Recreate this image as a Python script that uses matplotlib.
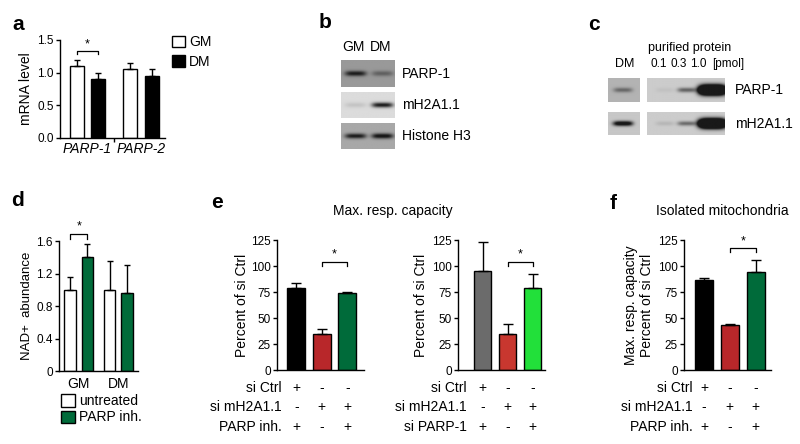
import numpy as np
import matplotlib
matplotlib.use("Agg")
import matplotlib.pyplot as plt

plt.rcParams['font.family'] = ['Liberation Sans', 'DejaVu Sans']
plt.rcParams['axes.linewidth'] = 1.0
plt.rcParams['xtick.major.width'] = 1.0
plt.rcParams['ytick.major.width'] = 1.0
plt.rcParams['xtick.major.size'] = 3
plt.rcParams['ytick.major.size'] = 3

# ==========================================
# Data
# ==========================================
# a - mRNA level
mrna_genes = ['PARP-1', 'PARP-2']
mrna_gm = [1.10, 1.05]
mrna_gm_err = [0.09, 0.10]
mrna_dm = [0.90, 0.95]
mrna_dm_err = [0.10, 0.10]

# b - western blot (band intensity per lane)
blot_b_lanes = ['GM', 'DM']
blot_b_rows = ['PARP-1', 'mH2A1.1', 'Histone H3']
blot_b_bands = [[1.0, 0.45], [0.12, 1.0], [1.0, 1.1]]

# c - western blot, DM lysate vs purified protein
blot_c_rows = ['PARP-1', 'mH2A1.1']
blot_c_pmol = ['0.1', '0.3', '1.0']
blot_c_dm = [0.5, 1.3]
blot_c_bands = [[0.06, 0.6, 4.0], [0.12, 0.55, 4.0]]

# d - NAD+ abundance
nad_groups = ['GM', 'DM']
nad_untreated = [1.00, 1.00]
nad_untreated_err = [0.16, 0.35]
nad_parp = [1.40, 0.96]
nad_parp_err = [0.16, 0.34]

# e - max. resp. capacity
e1_vals = [79, 35, 74]
e1_err = [5, 4, 1]
e1_rows = ['si Ctrl', 'si mH2A1.1', 'PARP inh.']
e1_signs = [['+', '-', '-'], ['-', '+', '+'], ['+', '-', '+']]

e2_vals = [95, 35, 79]
e2_err = [28, 9, 13]
e2_rows = ['si Ctrl', 'si mH2A1.1', 'si PARP-1']
e2_signs = [['+', '-', '-'], ['-', '+', '+'], ['+', '-', '+']]

# f - isolated mitochondria
f_vals = [87, 43, 94]
f_err = [1, 1, 12]
f_rows = ['si Ctrl', 'si mH2A1.1', 'PARP inh.']
f_signs = [['+', '-', '-'], ['-', '+', '+'], ['+', '-', '+']]

GREEN = '#006b3a'
RED = '#b8272a'
RED2 = '#c8372f'
LGREEN = '#22e03a'
GRAY = '#6b6b6b'

FS = 10
TICK_FS = 8.5

W, H = 800, 444
fig = plt.figure(figsize=(W / 100, H / 100), dpi=100)


def px_axes(x0, y0, x1, y1):
    return fig.add_axes([x0 / W, 1 - y1 / H, (x1 - x0) / W, (y1 - y0) / H])


def ftext(x, y, s, **kw):
    fig.text(x / W, 1 - y / H, s, **kw)


def clean(ax):
    ax.spines['top'].set_visible(False)
    ax.spines['right'].set_visible(False)
    ax.tick_params(labelsize=TICK_FS, pad=1.5)


def bracket(ax, x1, x2, y, h):
    ax.plot([x1, x1, x2, x2], [y - h, y, y, y - h], color='black', lw=0.9, clip_on=False)
    ax.text((x1 + x2) / 2, y + h * 0.3, '*', ha='center', va='bottom', fontsize=9)


def draw_blot(ax, bands, centers, bg, half_w):
    ny, nx = 60, 160
    xx, yy = np.meshgrid(np.linspace(0, 1, nx), np.linspace(0, 1, ny))
    dark = np.zeros_like(xx)
    for c, a in zip(centers, bands):
        # strong (saturated) bands bleed wider and taller
        hw = half_w * (0.85 + 0.15 * max(a, 1))
        sy = 0.07 + 0.03 * max(a, 1)
        dark += a * np.exp(-((xx - c) / hw) ** 4) * np.exp(-((yy - 0.5) / sy) ** 2)
    dark = np.clip(dark, 0, 1)
    img = bg - (bg - 0.1) * dark
    ax.imshow(img, cmap='gray', vmin=0, vmax=1, extent=[0, 1, 0, 1],
              aspect='auto', interpolation='bilinear')
    ax.set_xticks([])
    ax.set_yticks([])
    for s in ax.spines.values():
        s.set_visible(False)


# ==========================================
# a
# ==========================================
ax = px_axes(60, 40, 165, 138)
clean(ax)
g = np.arange(len(mrna_genes))
ax.bar(g - 0.2, mrna_gm, 0.26, color='white', edgecolor='black', lw=1, label='GM',
       yerr=[[0] * 2, mrna_gm_err], capsize=2.5, error_kw=dict(lw=1, capthick=1))
ax.bar(g + 0.2, mrna_dm, 0.26, color='black', edgecolor='black', lw=1, label='DM',
       yerr=[[0] * 2, mrna_dm_err], capsize=2.5, error_kw=dict(lw=1, capthick=1))
ax.set_xlim(-0.51, 1.45)
ax.set_ylim(0, 1.5)
ax.set_yticks([0, 0.5, 1.0, 1.5])
ax.set_yticklabels(['0.0', '0.5', '1.0', '1.5'])
ax.set_xticks(g)
ax.set_xticklabels(mrna_genes, style='italic', fontsize=FS)
ax.tick_params(axis='x', length=0, pad=3)
ax.set_xticks([0.5], minor=True)
ax.tick_params(axis='x', which='minor', length=3, width=1)
ax.set_ylabel('mRNA level', fontsize=FS)
ax.yaxis.set_label_coords(-0.26, 0.5)
bracket(ax, -0.2, 0.2, 1.33, 0.05)
ax.legend(loc='upper left', bbox_to_anchor=(1.07, 1.05), frameon=False, fontsize=FS,
          handlelength=0.9, handleheight=0.9, handletextpad=0.3, labelspacing=0.4,
          borderpad=0, borderaxespad=0)
ftext(18, 25, 'a', fontsize=15, fontweight='bold', ha='center', va='center')

# ==========================================
# b
# ==========================================
b_rows_px = [(60, 87), (92, 118), (123, 149)]
b_bg = [0.60, 0.86, 0.66]
for i, (y0, y1) in enumerate(b_rows_px):
    bx = px_axes(341, y0, 394, y1)
    draw_blot(bx, blot_b_bands[i], [0.27, 0.77], b_bg[i], 0.2)
    ftext(402, (y0 + y1) / 2, blot_b_rows[i], fontsize=FS, va='center')
for lx, lab in zip([353, 381], blot_b_lanes):
    ftext(lx, 47, lab, fontsize=FS, ha='center', va='center')
ftext(325, 22, 'b', fontsize=15, fontweight='bold', ha='center', va='center')

# ==========================================
# c
# ==========================================
c_rows_px = [(78, 102), (112, 135)]
c_bg_dm = [0.70, 0.78]
c_bg = [0.80, 0.80]
for i, (y0, y1) in enumerate(c_rows_px):
    cx = px_axes(608, y0, 640, y1)
    draw_blot(cx, [blot_c_dm[i]], [0.47], c_bg_dm[i], 0.3)
    cx2 = px_axes(647, y0, 725, y1)
    draw_blot(cx2, blot_c_bands[i], [0.23, 0.51, 0.84], c_bg[i], 0.12)
    ftext(735, (y0 + y1) / 2, blot_c_rows[i], fontsize=FS, va='center')
ftext(625, 64, 'DM', fontsize=9, ha='center', va='center')
for lx, lab in zip([659, 679, 698], blot_c_pmol):
    ftext(lx, 64, lab, fontsize=8.5, ha='center', va='center')
ftext(728, 64, '[pmol]', fontsize=8.5, ha='center', va='center')
ftext(690, 48, 'purified protein', fontsize=9, ha='center', va='center')
ftext(594, 25, 'c', fontsize=15, fontweight='bold', ha='center', va='center')

# ==========================================
# d
# ==========================================
ax = px_axes(59, 241, 138, 371)
clean(ax)
g = np.arange(len(nad_groups))
ax.bar(g - 0.22, nad_untreated, 0.3, color='white', edgecolor='black', lw=1, label='untreated',
       yerr=[[0] * 2, nad_untreated_err], capsize=2.5, error_kw=dict(lw=1, capthick=1))
ax.bar(g + 0.22, nad_parp, 0.3, color=GREEN, edgecolor='black', lw=1, label='PARP inh.',
       yerr=[[0] * 2, nad_parp_err], capsize=2.5, error_kw=dict(lw=1, capthick=1))
ax.set_xlim(-0.5, 1.5)
ax.set_ylim(0, 1.6)
ax.set_yticks([0, 0.4, 0.8, 1.2, 1.6])
ax.set_yticklabels(['0', '0.4', '0.8', '1.2', '1.6'])
ax.set_xticks(g)
ax.set_xticklabels(nad_groups, fontsize=FS)
ax.tick_params(axis='x', length=0, pad=4)
ax.set_ylabel('NAD+  abundance', fontsize=9.5)
ax.yaxis.set_label_coords(-0.33, 0.5)
bracket(ax, -0.22, 0.22, 1.69, 0.06)
ax.legend(loc='upper left', bbox_to_anchor=(0.03, -0.18), frameon=False, fontsize=FS,
          handlelength=1.0, handleheight=1.0, handletextpad=0.3, labelspacing=0.15,
          borderpad=0, borderaxespad=0)
ftext(18, 200, 'd', fontsize=15, fontweight='bold', ha='center', va='center')


# ==========================================
# e, f
# ==========================================
def resp_panel(x0, x1, vals, errs, colors, rows, signs, xlim, lab_x, br_y):
    ax = px_axes(x0, 240, x1, 370)
    clean(ax)
    x = np.arange(len(vals))
    ax.bar(x, vals, 0.7, color=colors, edgecolor='black', lw=1,
           yerr=[[0] * len(vals), errs], capsize=3.5, error_kw=dict(lw=1, capthick=1))
    ax.set_xlim(*xlim)
    ax.set_ylim(0, 125)
    ax.set_yticks([0, 25, 50, 75, 100, 125])
    ax.set_xticks([])
    tr = ax.get_xaxis_transform()
    for r, (name, sg) in enumerate(zip(rows, signs)):
        yy = [-0.138, -0.285, -0.44][r]
        ax.text(lab_x, yy, name, transform=tr, ha='right', va='center', fontsize=FS)
        for xi, s in zip(x, sg):
            ax.text(xi, yy, s, transform=tr, ha='center', va='center', fontsize=FS)
    bracket(ax, 1, 2, br_y, 4)
    return ax


ax = resp_panel(277, 364, e1_vals, e1_err, ['black', RED, GREEN], e1_rows, e1_signs,
                (-0.75, 2.65), -0.58, 104)
ax.set_ylabel('Percent of si Ctrl', fontsize=FS)
ax.yaxis.set_label_coords(-0.32, 0.5)

ax = resp_panel(458, 545, e2_vals, e2_err, [GRAY, RED2, LGREEN], e2_rows, e2_signs,
                (-0.98, 2.5), -0.62, 104)
ax.set_ylabel('Percent of si Ctrl', fontsize=FS)
ax.yaxis.set_label_coords(-0.345, 0.5)

ftext(393, 211, 'Max. resp. capacity', fontsize=FS, ha='center', va='center')
ftext(217, 202, 'e', fontsize=15, fontweight='bold', ha='center', va='center')

ax = resp_panel(684, 771, f_vals, f_err, ['black', RED, GREEN], f_rows, f_signs,
                (-0.78, 2.6), -0.45, 117)
ax.set_ylabel('Max. resp. capacity\nPercent of si Ctrl', fontsize=FS, linespacing=1.15)
ax.yaxis.set_label_coords(-0.345, 0.5)
ftext(722, 211, 'Isolated mitochondria', fontsize=FS, ha='center', va='center')
ftext(613, 203, 'f', fontsize=15, fontweight='bold', ha='center', va='center')

fig.savefig('out.png', dpi=100, facecolor='white')
